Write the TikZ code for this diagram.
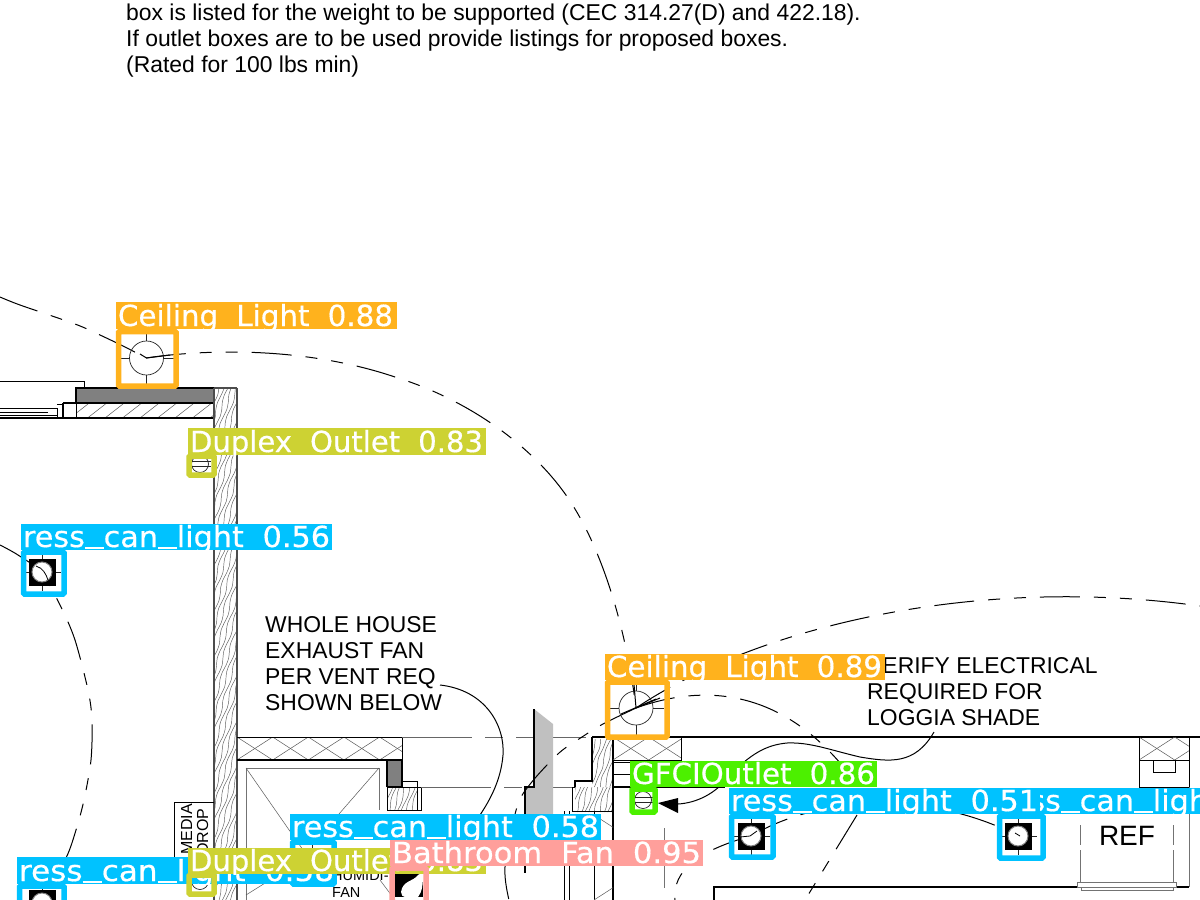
\documentclass[tikz,border=0pt]{standalone}
\usepackage{fontspec}
\setmainfont{Liberation Sans}
\newfontfamily\labfont[FakeBold=0.5]{DejaVu Sans}
\usetikzlibrary{arrows.meta}
\definecolor{corange}{HTML}{FFB21D}
\definecolor{cyellow}{HTML}{CDD233}
\definecolor{cblue}{HTML}{00C2FF}
\definecolor{cgreen}{HTML}{4CF000}
\definecolor{cpink}{HTML}{FF9F9B}
\definecolor{gwall}{HTML}{808080}
\definecolor{glight}{HTML}{C0C0C0}
\newcommand{\lowbar}{\rule[-2.4pt]{.62em}{2.4pt}}
\newcommand{\detlab}[8]{% name colour x0 y0 x1 y1 textwidth text
  \fill[#2] (#3,#4) rectangle (#5,#6);
  \begin{scope}
    \clip (#3,#4) rectangle (#5,#6);
    \node[labtext] (#1) at (#3+2,#6-3) {\resizebox{#7pt}{\height}{\fontsize{29pt}{30pt}\labfont\spaceskip=.62em #8}};
  \end{scope}}
\newcommand{\detbox}[5]{\draw[detframe,draw=#1] (#2,#3) rectangle (#4,#5);}
\newcommand{\ceilinglight}[2]{%
  \draw[icon] (#1,#2) circle[radius=17];
  \draw[icon] (#1,#2-28)--(#1,#2-17) (#1,#2+17)--(#1,#2+28) (#1-28,#2)--(#1-17,#2) (#1+17,#2)--(#1+28,#2);}
\newcommand{\canlight}[2]{%
  \fill[black] (#1-13.5,#2-13.5) rectangle (#1+13.5,#2+13.5);
  \fill[white,draw=gray,line width=1pt] (#1,#2) circle[radius=10];
  \draw[icon] (#1,#2-19)--(#1,#2-13.5) (#1,#2+13.5)--(#1,#2+19) (#1-19,#2)--(#1-13.5,#2) (#1+13.5,#2)--(#1+19,#2);}
\newcommand{\outletsym}[2]{%
  \draw[icon] (#1,#2) circle[radius=8.5];
  \draw[icon] (#1-9,#2-2.5)--(#1+11,#2-2.5) (#1-9,#2+2.5)--(#1+11,#2+2.5);}
\newcommand{\xhatch}[4]{%
  \begin{scope}
    \clip (#1,#2) rectangle (#3,#4);
    \foreach \k in {-2,...,8} {
      \draw[thingray] ({#1+\k*(#4-#2)*1.55},#2)--({#1+(\k+1)*(#4-#2)*1.55},#4);
      \draw[thingray] ({#1+(\k+1)*(#4-#2)*1.55},#2)--({#1+\k*(#4-#2)*1.55},#4);}
  \end{scope}}
\newcommand{\woodfill}[4]{% x0 y0 x1 y1
  \begin{scope}
    \clip (#1,#2) rectangle (#3,#4);
    \pgfmathtruncatemacro\wn{((#3-#1)+(#4-#2)*.3)/4.5}
    \pgfmathtruncatemacro\ws{max(6,(#4-#2)/7)}
    \foreach \i in {0,...,\wn} {
      \draw[thingray,line width=.45pt] plot[domain=#2:#4,samples=\ws,smooth]
        ({#1-(#4-#2)*.3+\i*4.5+(#4-\x)*.3+1.3*sin(\x*11+\i*70)},\x);}
  \end{scope}}
\tikzset{
  wall/.style={line width=.9pt,draw=black},
  heavy/.style={line width=1.5pt,draw=black},
  wallgray/.style={line width=1.4pt,draw=black!70},
  thingray/.style={line width=.5pt,draw=black!65},
  grayline/.style={line width=.8pt,draw=black!55},
  icon/.style={line width=.7pt,draw=black!85},
  arcdash/.style={line width=1pt,draw=black,dash pattern=on 40pt off 14pt on 12pt off 14pt on 12pt off 14pt},
  centerline/.style={line width=.5pt,draw=black!60,dash pattern=on 70pt off 13pt on 18pt off 13pt},
  leader/.style={line width=1pt,draw=black},
  detframe/.style={line width=5.5pt,rounded corners=1pt},
  labtext/.style={anchor=base west,inner sep=0pt,outer sep=0pt,text=white},
  plantext/.style={anchor=base west,inner sep=0pt,font=\fontsize{22.9pt}{26pt}\selectfont},
  smalltext/.style={inner sep=0pt,font=\fontsize{16pt}{18pt}\selectfont},
  tinytext/.style={inner sep=0pt,font=\fontsize{14.5pt}{18pt}\selectfont},
}
\begin{document}
\begin{tikzpicture}[x=1pt,y=-1pt]
\useasboundingbox (0,0) rectangle (1200,900);
\clip (0,0) rectangle (1200,900);
\fill[white] (0,0) rectangle (1200,900);
% top note
\node[plantext] (n1) at (126,20) {box is listed for the weight to be supported (CEC 314.27(D) and 422.18).};
\node[plantext] (n2) at (126,46) {If outlet boxes are to be used provide listings for proposed boxes.};
\node[plantext] (n3) at (126,72) {(Rated for 100 lbs min)};
% top-left window and lintel
\draw[wall] (0,381)--(84,381)--(84,388);
\fill[gwall] (76,388) rectangle (214,403);
\draw[heavy] (76,403)--(76,388)--(214,388);
\draw[heavy] (76,403)--(214,403);
\begin{scope}
  \clip (76,404) rectangle (214,418);
  \foreach \k in {0,...,9} \draw[thingray] ({70+\k*17.5},418)--({88+\k*17.5},404);
\end{scope}
\draw[wall] (0,408)--(48,408) (0,412)--(48,412) (0,415)--(57,415);
\draw[wall] (48,408)--(57,408)--(57,418);
\draw[wall] (57,404)--(63,404)--(63,418);
\draw[heavy] (63,403)--(76,403);
\draw[heavy] (0,418)--(214,418);
\draw[heavy] (63,403)--(63,418);
\draw[wall] (76,403)--(76,418);
% left wall
\woodfill{214}{388}{237}{900}
\draw[wallgray] (214,388)--(214,900);
\draw[wallgray] (237,388)--(237,900);
\draw[wallgray] (214,388)--(237,388);
% media drop
\fill[white] (174,802) rectangle (213,860);
\draw[wall] (174,860)--(174,802)--(214,802);
\node[rotate=90,smalltext,anchor=base west] (media) at (192,855) {MEDIA};
\node[rotate=90,smalltext,anchor=base west] (drop) at (208,855) {DROP};
% exhaust shaft
\xhatch{237}{737}{402}{760}
\draw[wall] (237,737)--(402,737)--(402,760);
\draw[centerline] (402,737)--(592,737);
\draw[heavy] (237,760)--(402,760);
\draw[grayline] (246,768)--(380,768);
\draw[grayline] (246,768)--(246,900);
\draw[grayline] (379,768)--(379,810);
\draw[thingray] (246,768)--(310,860) (379,768)--(312,845) (380,880)--(395,900) (246,895)--(270,880);
\fill[gwall] (387,760) rectangle (402,787);
\draw[heavy] (387,787)--(387,760)--(402,760)--(402,781);
\draw[wall] (402,781)--(417,781)--(417,787);
\draw[heavy] (387,787)--(402,787)--(402,781);
\woodfill{387}{787}{417}{810}
\draw[wall] (387,787)--(421,787)--(421,810)--(387,810)--(387,787) (417,787)--(417,810);
\draw[centerline] (421,787)--(572,787);
% gray stub wall
\fill[glight] (534,709)--(553,724)--(553,842)--(525,842)--(525,787)--(534,787)--cycle;
\draw[line width=2.2pt] (534,709)--(534,787)--(525,787)--(525,873);
% right wall
\woodfill{592}{739}{613}{787}
\woodfill{575}{787}{613}{812}
\draw[heavy] (592,737)--(592,781)--(575,781)--(575,787);
\draw[wall] (575,787)--(572,787)--(572,811);
\draw[wall] (572,811)--(613,811);
\draw[heavy] (613,737)--(613,900);
\draw[wall] (564,811)--(564,900) (569,811)--(569,900) (594,811)--(594,900);
\xhatch{594}{815}{613}{900}
% top wall line with right elements
\draw[heavy] (592,737)--(1200,737);
\xhatch{613}{737}{681}{760}
\draw[wall] (613,760)--(681,760)--(681,737);
\draw[wall] (613,762)--(630,762) (613,774)--(630,774);
\draw[heavy] (613,787)--(725,787);
\draw[grayline] (664,828)--(664,888);
% fridge alcove
\xhatch{1139}{737}{1189}{760}
\draw[wall] (1139,737)--(1139,787)--(1189,787)--(1189,737);
\draw[wall] (1139,760)--(1189,760);
\draw[wall] (1153,760)--(1153,772)--(1175,772)--(1175,760);
\draw[grayline] (1189,787)--(1189,887);
\draw[heavy] (714,900)--(714,887)--(1189,887);
\draw[grayline] (1080,825)--(1080,845) (1080,850)--(1080,882) (1173,825)--(1173,845) (1173,850)--(1173,882);
\draw[grayline,fill=white] (1077,882) rectangle (1176,887);
\draw[grayline] (1081,887) rectangle (1173,890);
\node[font=\fontsize{28pt}{28pt}\selectfont] (ref) at (1127,836) {REF};
% dashed switching arcs
\draw[arcdash] plot[smooth] coordinates {(0,297) (20,305) (75,324) (100,335) (125,347) (146,358)};
\draw[arcdash] (146,358) .. controls (200,350) and (300,345) .. (395,377) .. controls (470,400) and (540,450) .. (575,509) .. controls (600,550) and (625,620) .. (636,708);
\draw[arcdash] (636,708) .. controls (760,625) and (980,575) .. (1200,606);
\draw[arcdash] (636,708) .. controls (700,685) and (780,685) .. (850,775);
\draw[arcdash] plot[smooth] coordinates {(636,708) (603,724) (582,737) (559,753) (531,783) (517,807) (505,867) (509,900)};
\draw[arcdash] (751,836) .. controls (830,790) and (940,795) .. (1018,836);
\draw[arcdash] (751,836) .. controls (700,850) and (672,870) .. (675,900);
\draw[arcdash] (857,815)--(805,900);
\draw[arcdash] plot[smooth] coordinates {(0,545) (18,555) (42,573) (61,607) (75,640) (88,690) (92,720) (91,760) (84,800) (76,830) (66,858) (42,900)};
% text callouts
\node[plantext] (w1) at (265,632) {WHOLE HOUSE};
\node[plantext] (w2) at (265,658) {EXHAUST FAN};
\node[plantext] (w3) at (265,684) {PER VENT REQ};
\node[plantext] (w4) at (265,710) {SHOWN BELOW};
\node[plantext] (v1) at (867,673) {VERIFY ELECTRICAL};
\node[plantext] (v2) at (867,699) {REQUIRED FOR};
\node[plantext] (v3) at (867,725) {LOGGIA SHADE};
\coordinate (leadA) at (440,685);
\coordinate (leadB) at (480,815);
\draw[leader] (leadA) .. controls (485,690) and (505,725) .. (503,755) .. controls (501,780) and (490,800) .. (leadB);
\coordinate (leadC) at (934,732);
\coordinate (leadD) at (678,804);
\draw[leader] (leadC) .. controls (915,765) and (890,762) .. (860,757) .. controls (830,750) and (810,742) .. (787,743) .. controls (765,745) and (750,755) .. (730,775) .. controls (715,795) and (695,803) .. (leadD);
\fill[black] (658,803)--(678,798)--(678,813)--cycle;
\node[tinytext,anchor=base west] (hum) at (332,880) {HUMIDI-};
\node[tinytext,anchor=base west] (fan) at (332,897) {FAN};
% symbols
\ceilinglight{146.5}{358}
\draw[line width=1pt] (140,354)--(146.5,358)--(170,355);
\ceilinglight{636}{708}
\draw[line width=1pt] (621,714)--(656,699) (636,708)--(634,684) (636,708)--(660,698);
\outletsym{200}{464}
\outletsym{200}{881}
\outletsym{643}{800}
\canlight{42}{572}
\draw[line width=.8pt] (36,566) .. controls (43,568) and (46,574) .. (48,580);
\canlight{751}{836}
\draw[line width=.8pt] (740,837) -- (750,836) -- (757,831);
\canlight{1018}{836}
\draw[line width=.8pt] (1015,833)--(1020,836);
\canlight{312}{862}
\canlight{42}{903}
% bathroom fan symbol
\fill[black] (393,873) rectangle (423,897);
\fill[white] (423,874) .. controls (422,873) and (420,873) .. (418,875) .. controls (413,882) and (403,880) .. (401,892) .. controls (401,895) and (403,897) .. (405,897) -- (418,897) .. controls (422,892) and (423,885) .. (423,874) -- cycle;
% detections
\detbox{corange}{118.5}{331.5}{176}{386}
\detlab{lc1}{corange}{116}{302}{397}{329}{275}{Ceiling Light 0.88}
\detbox{cyellow}{189}{456}{214}{475}
\detlab{ld1}{cyellow}{188}{428}{486}{455}{293}{Duplex Outlet 0.83}
\detbox{cblue}{23.5}{552}{64}{594}
\detlab{lr1}{cblue}{21}{524}{332}{550}{307}{ress\lowbar can\lowbar light 0.56}
\detbox{corange}{607.5}{682}{667}{737}
\detlab{lc2}{corange}{605}{654}{885}{680}{275}{Ceiling Light 0.89}
\detbox{cgreen}{632}{789}{655}{812}
\detlab{lg1}{cgreen}{630}{761}{877}{787}{243}{GFCIOutlet 0.86}
\detbox{cblue}{999.5}{816}{1043}{858}
\detlab{lr5}{cblue}{997}{788}{1200}{814}{307}{ress\lowbar can\lowbar light 0.50}
\detbox{cblue}{731.5}{816}{773}{857}
\detlab{lr2}{cblue}{729}{788}{1040}{814}{307}{ress\lowbar can\lowbar light 0.51}
\detbox{cblue}{292.5}{842}{334}{884}
\detlab{lr3}{cblue}{290}{814}{601}{840}{307}{ress\lowbar can\lowbar light 0.58}
\detbox{cblue}{19.5}{886}{64}{930}
\detlab{lr4}{cblue}{17}{857}{336}{884}{315}{ress\lowbar can\lowbar light 0.58}
\detbox{cyellow}{189}{875}{214}{894}
\detlab{ld2}{cyellow}{188}{848}{486}{874}{293}{Duplex Outlet 0.83}
\detbox{cpink}{392}{868}{426}{910}
\detlab{lb1}{cpink}{390}{840}{703}{866}{309}{Bathroom Fan 0.95}
\end{tikzpicture}
\end{document}
